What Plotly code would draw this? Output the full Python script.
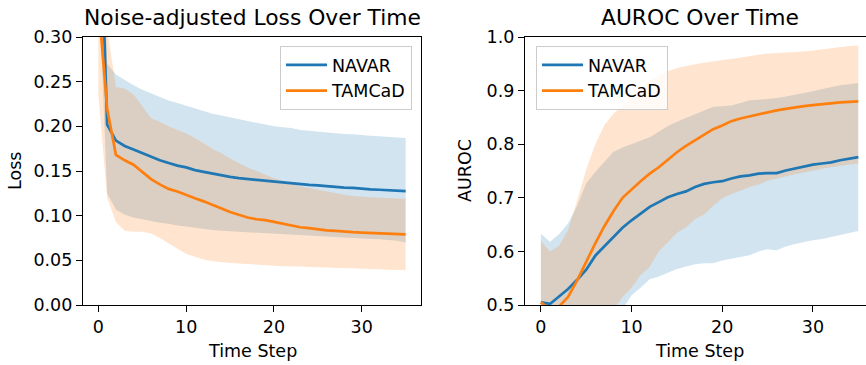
import plotly.graph_objects as go

# ---------------- data ----------------
time_steps = list(range(36))

loss_navar_mean = [0.52, 0.202, 0.184, 0.178, 0.174, 0.170, 0.166, 0.162, 0.159, 0.156, 0.154, 0.151,
                   0.149, 0.147, 0.145, 0.1435, 0.142, 0.141, 0.140, 0.139, 0.138, 0.137, 0.136, 0.135,
                   0.1345, 0.134, 0.133, 0.132, 0.1315, 0.131, 0.130, 0.1295, 0.129, 0.1285, 0.128, 0.1275]
loss_navar_upper = [0.67, 0.270, 0.258, 0.252, 0.246, 0.241, 0.237, 0.233, 0.229, 0.226, 0.223, 0.220,
                    0.217, 0.214, 0.212, 0.210, 0.208, 0.206, 0.204, 0.202, 0.200, 0.199, 0.198, 0.196,
                    0.195, 0.194, 0.193, 0.192, 0.1915, 0.191, 0.190, 0.1895, 0.189, 0.188, 0.1875, 0.187]
loss_navar_lower = [0.37, 0.125, 0.107, 0.101, 0.098, 0.096, 0.094, 0.092, 0.091, 0.089, 0.088, 0.0865,
                    0.085, 0.084, 0.083, 0.082, 0.0815, 0.081, 0.0805, 0.080, 0.0795, 0.079, 0.0785, 0.078,
                    0.0775, 0.077, 0.0765, 0.076, 0.0755, 0.075, 0.0745, 0.074, 0.0735, 0.073, 0.072, 0.070]

loss_tamcad_mean = [0.34, 0.22, 0.168, 0.162, 0.157, 0.149, 0.141, 0.135, 0.130, 0.127, 0.123, 0.1195,
                    0.116, 0.112, 0.108, 0.104, 0.101, 0.098, 0.096, 0.095, 0.093, 0.091, 0.089, 0.087,
                    0.086, 0.0845, 0.0835, 0.083, 0.082, 0.0815, 0.081, 0.0805, 0.080, 0.0795, 0.079, 0.079]
loss_tamcad_upper = [0.445, 0.31, 0.244, 0.242, 0.236, 0.222, 0.209, 0.205, 0.200, 0.196, 0.192, 0.187,
                     0.181, 0.175, 0.170, 0.164, 0.159, 0.154, 0.150, 0.146, 0.142, 0.139, 0.136, 0.133,
                     0.131, 0.129, 0.127, 0.125, 0.1235, 0.122, 0.121, 0.1205, 0.120, 0.1195, 0.119, 0.119]
loss_tamcad_lower = [0.235, 0.12, 0.093, 0.083, 0.082, 0.082, 0.080, 0.075, 0.069, 0.063, 0.057, 0.054,
                     0.051, 0.049, 0.048, 0.047, 0.046, 0.0455, 0.045, 0.0445, 0.044, 0.0435, 0.043, 0.043,
                     0.0425, 0.042, 0.042, 0.0415, 0.041, 0.041, 0.0405, 0.040, 0.040, 0.0395, 0.039, 0.039]

auroc_navar_mean = [0.505, 0.502, 0.516, 0.530, 0.547, 0.566, 0.592, 0.609, 0.626, 0.644, 0.658, 0.671,
                    0.683, 0.692, 0.701, 0.707, 0.712, 0.720, 0.726, 0.729, 0.731, 0.736, 0.740, 0.742,
                    0.745, 0.746, 0.746, 0.751, 0.755, 0.759, 0.762, 0.764, 0.766, 0.770, 0.773, 0.776]
auroc_navar_upper = [0.633, 0.618, 0.632, 0.652, 0.685, 0.727, 0.748, 0.767, 0.786, 0.794, 0.800, 0.806,
                     0.813, 0.823, 0.834, 0.842, 0.849, 0.855, 0.862, 0.870, 0.871, 0.872, 0.877, 0.882,
                     0.883, 0.884, 0.886, 0.889, 0.892, 0.896, 0.899, 0.903, 0.907, 0.910, 0.912, 0.914]
auroc_navar_lower = [0.377, 0.386, 0.400, 0.408, 0.410, 0.405, 0.436, 0.452, 0.466, 0.494, 0.518, 0.532,
                     0.548, 0.553, 0.560, 0.567, 0.572, 0.576, 0.578, 0.578, 0.583, 0.587, 0.590, 0.593,
                     0.600, 0.604, 0.602, 0.609, 0.614, 0.618, 0.621, 0.623, 0.627, 0.630, 0.634, 0.638]

auroc_tamcad_mean = [0.505, 0.492, 0.497, 0.515, 0.546, 0.582, 0.615, 0.647, 0.675, 0.700, 0.716, 0.731,
                     0.745, 0.757, 0.771, 0.785, 0.797, 0.807, 0.817, 0.828, 0.835, 0.843, 0.848, 0.852,
                     0.856, 0.860, 0.863, 0.866, 0.869, 0.871, 0.873, 0.875, 0.877, 0.878, 0.879, 0.880]
auroc_tamcad_upper = [0.620, 0.600, 0.610, 0.640, 0.695, 0.753, 0.800, 0.836, 0.857, 0.871, 0.886, 0.903,
                      0.919, 0.928, 0.936, 0.942, 0.946, 0.949, 0.952, 0.955, 0.957, 0.959, 0.962, 0.965,
                      0.967, 0.969, 0.970, 0.971, 0.971, 0.973, 0.975, 0.977, 0.980, 0.982, 0.983, 0.984]
auroc_tamcad_lower = [0.385, 0.370, 0.370, 0.380, 0.400, 0.410, 0.430, 0.460, 0.490, 0.515, 0.532, 0.556,
                      0.571, 0.600, 0.617, 0.635, 0.645, 0.660, 0.669, 0.685, 0.699, 0.707, 0.713, 0.720,
                      0.725, 0.732, 0.736, 0.740, 0.744, 0.747, 0.750, 0.754, 0.757, 0.760, 0.762, 0.764]

x_ticks = [0, 10, 20, 30]
loss_ticks = [0.00, 0.05, 0.10, 0.15, 0.20, 0.25, 0.30]
loss_tick_labels = ["0.00", "0.05", "0.10", "0.15", "0.20", "0.25", "0.30"]
auroc_ticks = [0.5, 0.6, 0.7, 0.8, 0.9, 1.0]
auroc_tick_labels = ["0.5", "0.6", "0.7", "0.8", "0.9", "1.0"]

series_names = ["NAVAR", "TAMCaD"]

# ---------------- styles ----------------
BLUE = "#1f77b4"
ORANGE = "#ff7f0e"
BLUE_FILL = "rgba(31,119,180,0.2)"
ORANGE_FILL = "rgba(255,127,14,0.2)"
FONT = "DejaVu Sans"
W, H = 866, 365
LW = 2.7

fig = go.Figure()


def add_band(x, lo, hi, color, xa, ya):
    fig.add_trace(go.Scatter(
        x=list(x) + list(x)[::-1], y=list(hi) + list(lo)[::-1],
        fill="toself", fillcolor=color, line=dict(width=0), mode="lines",
        hoverinfo="skip", showlegend=False, xaxis=xa, yaxis=ya))


def add_line(x, y, color, name, xa, ya, legend):
    fig.add_trace(go.Scatter(
        x=x, y=y, mode="lines", line=dict(color=color, width=LW), name=name,
        xaxis=xa, yaxis=ya, legend=legend))


add_band(time_steps, loss_navar_lower, loss_navar_upper, BLUE_FILL, "x", "y")
add_band(time_steps, loss_tamcad_lower, loss_tamcad_upper, ORANGE_FILL, "x", "y")
add_line(time_steps, loss_navar_mean, BLUE, series_names[0], "x", "y", "legend")
add_line(time_steps, loss_tamcad_mean, ORANGE, series_names[1], "x", "y", "legend")

add_band(time_steps, auroc_navar_lower, auroc_navar_upper, BLUE_FILL, "x2", "y2")
add_band(time_steps, auroc_tamcad_lower, auroc_tamcad_upper, ORANGE_FILL, "x2", "y2")
add_line(time_steps, auroc_navar_mean, BLUE, series_names[0], "x2", "y2", "legend2")
add_line(time_steps, auroc_tamcad_mean, ORANGE, series_names[1], "x2", "y2", "legend2")

# ---------------- layout ----------------
ydom = [60 / H, 328 / H]
axis_common = dict(showgrid=False, zeroline=False, showline=True, linecolor="black", linewidth=1.3,
                   ticks="outside", ticklen=6, tickwidth=1.3, tickcolor="black", automargin=False,
                   tickfont=dict(family=FONT, size=17.5, color="black"))
legend_common = dict(yanchor="top", y=(H - 46) / H, itemwidth=41,
                     bgcolor="rgba(255,255,255,0.8)", bordercolor="#cccccc", borderwidth=1,
                     font=dict(family=FONT, size=17.5, color="black"))

fig.update_layout(
    width=W, height=H, margin=dict(l=0, r=0, t=0, b=0, autoexpand=False),
    paper_bgcolor="white", plot_bgcolor="white",
    font=dict(family=FONT, size=17.5, color="black"),
    xaxis=dict(domain=[83 / W, 421 / W], range=[-1.75, 36.75], tickvals=x_ticks, anchor="y",
               mirror=True, **axis_common),
    yaxis=dict(domain=ydom, range=[0, 0.30], tickvals=loss_ticks, ticktext=loss_tick_labels,
               anchor="x", mirror=True, **axis_common),
    xaxis2=dict(domain=[525 / W, 1.0], range=[-1.75, 35.85], tickvals=x_ticks, anchor="y2",
                mirror=True, **axis_common),
    yaxis2=dict(domain=ydom, range=[0.5, 1.0], tickvals=auroc_ticks, ticktext=auroc_tick_labels,
                anchor="x2", mirror=False, **axis_common),
    legend=dict(x=412 / W, xanchor="right", **legend_common),
    legend2=dict(x=536 / W, xanchor="left", **legend_common),
    showlegend=True,
)

annotations = [
    dict(text="Noise-adjusted Loss Over Time", x=252 / W, y=(H - 17) / H, size=21.8),
    dict(text="AUROC Over Time", x=699.5 / W, y=(H - 17) / H, size=21.8),
    dict(text="Time Step", x=252 / W, y=(H - 351) / H, size=17.5),
    dict(text="Time Step", x=699.5 / W, y=(H - 351) / H, size=17.5),
    dict(text="Loss", x=15 / W, y=(H - 171) / H, size=17.5, angle=-90),
    dict(text="AUROC", x=465 / W, y=(H - 171) / H, size=17.5, angle=-90),
]
for a in annotations:
    fig.add_annotation(text=a["text"], x=a["x"], y=a["y"], xref="paper", yref="paper",
                       xanchor="center", yanchor="middle", showarrow=False,
                       textangle=a.get("angle", 0),
                       font=dict(family=FONT, size=a["size"], color="black"))

page_fix = """
var gd = document.getElementById('{plot_id}');
var de = document.documentElement, b = document.body;
[de, b].forEach(function (el) {
  el.style.margin = '0'; el.style.padding = '0'; el.style.overflow = 'hidden';
  el.style.width = '866px'; el.style.height = '365px';
});
gd.style.position = 'fixed'; gd.style.left = '0px'; gd.style.top = '0px';
"""

fig.write_html("out.html", config={"displayModeBar": False}, post_script=page_fix)
